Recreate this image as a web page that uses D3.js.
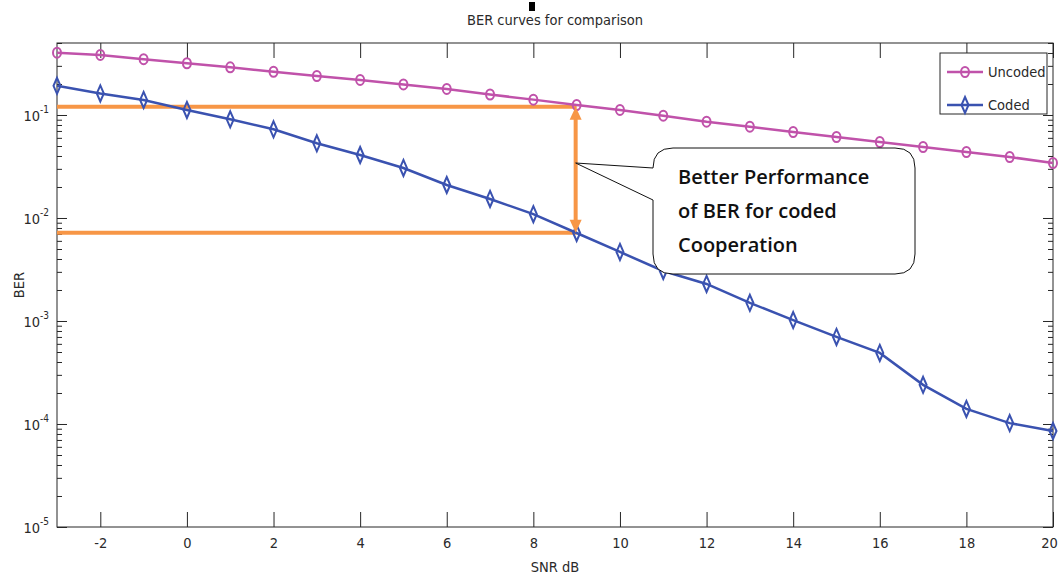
<!DOCTYPE html>
<html>
<head>
<meta charset="utf-8">
<style>
    body { margin: 0; background: #fff; }
    svg { display: block; }
    .axis-text {
        font-family: "Liberation Sans Narrow", "DejaVu Sans Condensed", "Liberation Sans", sans-serif;
        font-size: 14.5px;
        fill: #2a2a2a;
    }
    .note {
        font-family: "Open Sans", Lato, sans-serif;
        font-size: 20px;
        font-weight: 600;
        fill: #111;
    }
</style>
</head>
<body>
<svg width="1060" height="577"></svg>

<script src="https://cdnjs.cloudflare.com/ajax/libs/d3/7.8.5/d3.min.js"></script>
<script>
    // values
    let snr = [-3, -2, -1, 0, 1, 2, 3, 4, 5, 6, 7, 8, 9, 10, 11, 12, 13, 14, 15, 16, 17, 18, 19, 20];
    let uncoded = [0.403, 0.383, 0.348, 0.318, 0.290, 0.263, 0.239, 0.219, 0.198, 0.179, 0.158, 0.141,
        0.125, 0.112, 0.0985, 0.0861, 0.0770, 0.0684, 0.0611, 0.0547, 0.0489, 0.0437, 0.0391, 0.0342];
    let coded = [0.192, 0.162, 0.140, 0.112, 0.0908, 0.0726, 0.0531, 0.0409, 0.0306, 0.0209, 0.0153, 0.0109,
        0.00715, 0.00468, 0.00306, 0.00229, 0.00150, 0.00102, 0.00070, 0.00049, 0.00024, 0.00014, 0.000102, 0.0000855];
    let xTicks = [-2, 0, 2, 4, 6, 8, 10, 12, 14, 16, 18, 20];
    let yDecades = [-5, -4, -3, -2, -1];
    let seriesNames = ["Uncoded", "Coded"];
    let refSnr = 9;
    let refLevels = [0.12, 0.0072];
    let noteLines = ["Better Performance", "of BER for coded", "Cooperation"];

    let svg = d3.select("svg");
    let margin = { top: 43, right: 7, bottom: 50, left: 57 };
    let width = 1060, height = 577;

    let x = d3.scaleLinear().domain([-3, 20]).range([margin.left, width - margin.right]);
    let y = d3.scaleLog().domain([1e-5, 0.5]).range([height - margin.bottom, margin.top]);

    let colUnc = "#c052aa";
    let colCod = "#3a52b0";
    let orange = "#f79646";
    let axisCol = "#262626";

    // minor tick values: 2..9 times each decade, inside domain
    let minors = [];
    yDecades.forEach(d => {
        [2, 3, 4, 5, 6, 7, 8, 9].forEach(k => {
            let v = k * Math.pow(10, d);
            if (v <= 0.5) minors.push(v);
        });
    });
    let majors = yDecades.map(d => Math.pow(10, d));

    let x0 = x.range()[0], x1 = x.range()[1];
    let yb = y.range()[0], yt = y.range()[1];

    // axes: bottom + mirrored top
    svg.append("g")
        .attr("transform", `translate(0,${yb})`)
        .call(d3.axisBottom(x).tickValues(xTicks).tickSizeInner(-15).tickSizeOuter(0).tickPadding(8).tickFormat(d => String(d)))
        .call(g => g.select(".domain").remove())
        .call(g => g.selectAll("line").attr("stroke", axisCol))
        .call(g => g.selectAll("text").attr("class", "axis-text").attr("font-size", null).attr("font-family", null).attr("dy", "0.9em"))
        .call(g => g.selectAll("text").filter(d => d === 20).attr("dx", -4));

    svg.append("g")
        .attr("transform", `translate(0,${yt})`)
        .call(d3.axisTop(x).tickValues(xTicks).tickSizeInner(-15).tickSizeOuter(0).tickFormat(""))
        .call(g => g.select(".domain").remove())
        .call(g => g.selectAll("line").attr("stroke", axisCol));

    // y: major + minor ticks on left and right
    [[x0, 1], [x1, -1]].forEach(([px, dir]) => {
        svg.append("g")
            .attr("transform", `translate(${px},0)`)
            .call(d3.axisLeft(y).tickValues(majors).tickSizeInner(-10 * dir).tickSizeOuter(0).tickFormat(""))
            .call(g => g.select(".domain").remove())
            .call(g => g.selectAll("line").attr("stroke", axisCol));
        svg.append("g")
            .attr("transform", `translate(${px},0)`)
            .call(d3.axisLeft(y).tickValues(minors).tickSizeInner(-5 * dir).tickSizeOuter(0).tickFormat(""))
            .call(g => g.select(".domain").remove())
            .call(g => g.selectAll("line").attr("stroke", axisCol));
    });

    // y tick labels as 10^n
    let yl = svg.append("g");
    yDecades.forEach(d => {
        let t = yl.append("text")
            .attr("class", "axis-text")
            .attr("x", x0 - 8)
            .attr("y", y(Math.pow(10, d)) + 6)
            .attr("text-anchor", "end");
        t.append("tspan").text("10");
        t.append("tspan").attr("dy", -8).attr("font-size", "10px").text(String(d));
    });

    // frame
    svg.append("rect")
        .attr("x", x0).attr("y", yt)
        .attr("width", x1 - x0).attr("height", yb - yt)
        .attr("fill", "none").attr("stroke", axisCol).attr("stroke-width", 1);

    // title + axis labels
    svg.append("text").attr("class", "axis-text")
        .attr("x", (x0 + x1) / 2).attr("y", 25).attr("text-anchor", "middle")
        .text("BER curves for comparison");
    svg.append("rect").attr("x", 529).attr("y", 2).attr("width", 6).attr("height", 9).attr("fill", "#000");

    svg.append("text").attr("class", "axis-text")
        .attr("x", (x0 + x1) / 2).attr("y", 572).attr("text-anchor", "middle")
        .text("SNR dB");

    svg.append("text").attr("class", "axis-text")
        .attr("transform", `translate(24,${(yt + yb) / 2}) rotate(-90)`)
        .attr("text-anchor", "middle")
        .text("BER");

    // curves
    let line = d3.line().x(d => x(d[0])).y(d => y(d[1]));
    let uncData = snr.map((s, i) => [s, uncoded[i]]);
    let codData = snr.map((s, i) => [s, coded[i]]);

    // orange annotation lines (drawn under curves)
    let ann = svg.append("g");
    refLevels.forEach(v => {
        ann.append("line")
            .attr("x1", x0).attr("x2", x(refSnr))
            .attr("y1", y(v)).attr("y2", y(v))
            .attr("stroke", orange).attr("stroke-width", 4);
    });

    svg.append("path").datum(uncData).attr("d", line)
        .attr("fill", "none").attr("stroke", colUnc).attr("stroke-width", 2.5);
    svg.append("path").datum(codData).attr("d", line)
        .attr("fill", "none").attr("stroke", colCod).attr("stroke-width", 2.5);

    svg.append("g").selectAll("ellipse").data(uncData).join("ellipse")
        .attr("cx", d => x(d[0])).attr("cy", d => y(d[1]))
        .attr("rx", 4).attr("ry", 5)
        .attr("fill", "none").attr("stroke", colUnc).attr("stroke-width", 2);

    let diamond = (cx, cy) => `M${cx},${cy - 8}L${cx + 3.5},${cy}L${cx},${cy + 8}L${cx - 3.5},${cy}Z`;
    svg.append("g").selectAll("path").data(codData).join("path")
        .attr("d", d => diamond(x(d[0]), y(d[1])))
        .attr("fill", "none").attr("stroke", colCod).attr("stroke-width", 2);

    // double arrow
    let ax = x(refSnr) - 1;
    let ya = y(refLevels[0]), yz = y(refLevels[1]);
    ann = svg.append("g");
    ann.append("line").attr("x1", ax).attr("x2", ax).attr("y1", ya + 10).attr("y2", yz - 10)
        .attr("stroke", orange).attr("stroke-width", 4);
    ann.append("path").attr("d", `M${ax},${ya}L${ax + 6},${ya + 13}L${ax - 6},${ya + 13}Z`).attr("fill", orange);
    ann.append("path").attr("d", `M${ax},${yz}L${ax + 6},${yz - 13}L${ax - 6},${yz - 13}Z`).attr("fill", orange);

    // callout
    let L = 653, R = 915, T = 148, B = 274, r = 20;
    let tipX = ax, tipY = 163;
    let callout = `M${L + r},${T} H${R - r} Q${R},${T} ${R},${T + r} V${B - r} Q${R},${B} ${R - r},${B}` +
        ` H${L + r} Q${L},${B} ${L},${B - r} V200 L${tipX},${tipY} L${L},${T + r} Q${L},${T} ${L + r},${T} Z`;
    svg.append("path").attr("d", callout).attr("fill", "#fff").attr("stroke", "#111").attr("stroke-width", 1);

    noteLines.forEach((s, i) => {
        svg.append("text").attr("class", "note")
            .attr("x", 678).attr("y", 184 + i * 34)
            .text(s);
    });

    // legend
    let lg = svg.append("g");
    lg.append("rect").attr("x", 940).attr("y", 53).attr("width", 107).attr("height", 61)
        .attr("fill", "#fff").attr("stroke", axisCol).attr("stroke-width", 1);
    seriesNames.forEach((name, i) => {
        let ly = 72 + i * 33;
        let c = i === 0 ? colUnc : colCod;
        lg.append("line").attr("x1", 947).attr("x2", 983).attr("y1", ly).attr("y2", ly)
            .attr("stroke", c).attr("stroke-width", 2.5);
        if (i === 0) {
            lg.append("ellipse").attr("cx", 965).attr("cy", ly).attr("rx", 4).attr("ry", 5)
                .attr("fill", "none").attr("stroke", c).attr("stroke-width", 2);
        } else {
            lg.append("path").attr("d", diamond(965, ly))
                .attr("fill", "none").attr("stroke", c).attr("stroke-width", 2);
        }
        lg.append("text").attr("class", "axis-text")
            .attr("x", 988).attr("y", ly + 5)
            .text(name);
    });
</script>
</body>
</html>
